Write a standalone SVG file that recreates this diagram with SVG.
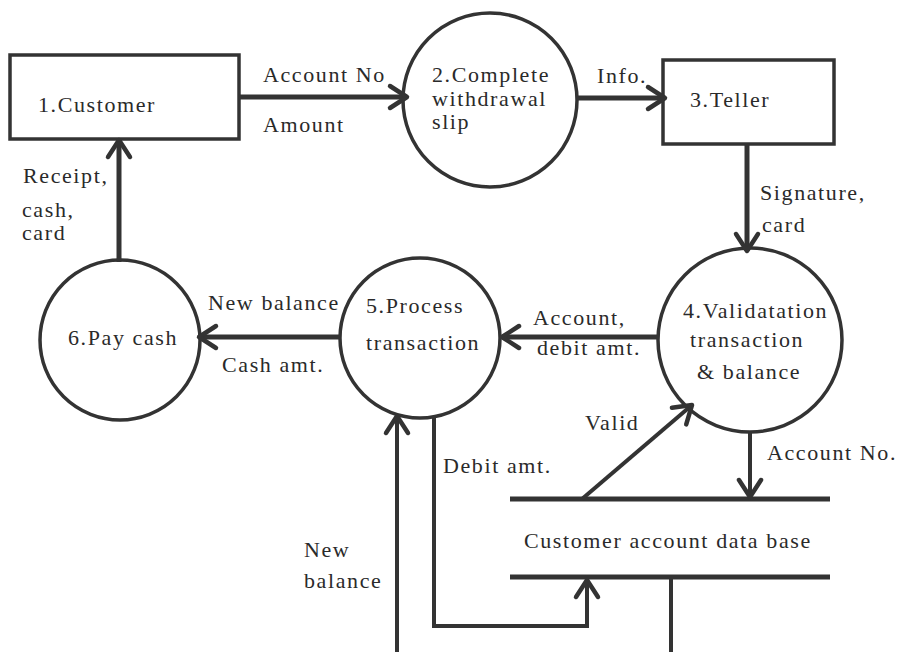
<svg xmlns="http://www.w3.org/2000/svg" width="900" height="652" viewBox="0 0 900 652">
<style>
text{font-family:'Liberation Serif','DejaVu Serif',serif;font-size:22px;letter-spacing:1.6px;fill:#2a2a2a}
.node{fill:none;stroke:#333;stroke-width:3.5}
.flow{fill:none;stroke:#333;stroke-width:5}
.thin{fill:none;stroke:#333;stroke-width:4}
.store{fill:none;stroke:#333;stroke-width:5}
</style>
<defs>
<marker id="arr" viewBox="0 0 22 26" refX="20" refY="13" markerWidth="22" markerHeight="26" markerUnits="userSpaceOnUse" orient="auto" overflow="visible">
<path d="M3,2 L20,13 L3,24" fill="none" stroke="#333" stroke-width="4.5" stroke-linecap="round" stroke-linejoin="round"/>
</marker>
</defs>
<rect width="900" height="652" fill="#fff"/>
<g id="customer"><rect class="node" x="10" y="55" width="229" height="84"/><text x="38" y="112">1.Customer</text></g>
<g id="complete-slip"><circle class="node" cx="490" cy="100" r="87"/><text x="432" y="82">2.Complete</text><text x="432" y="106">withdrawal</text><text x="432" y="129">slip</text></g>
<g id="teller"><rect class="node" x="663" y="60" width="171" height="84"/><text x="690" y="107">3.Teller</text></g>
<g id="validation"><circle class="node" cx="750" cy="340" r="92"/><text x="683" y="318">4.Validatation</text><text x="690" y="347">transaction</text><text x="697" y="379">&amp; balance</text></g>
<g id="process"><circle class="node" cx="420" cy="338" r="80"/><text x="366" y="313">5.Process</text><text x="366" y="350">transaction</text></g>
<g id="pay-cash"><circle class="node" cx="120" cy="340" r="80"/><text x="68" y="345">6.Pay cash</text></g>
<g id="account-db"><line class="store" x1="510" y1="499" x2="830" y2="499"/><line class="store" x1="510" y1="577" x2="830" y2="577"/><text x="524" y="548">Customer account data base</text></g>
<g id="connectors">
<path class="flow" d="M239,97 L407,97" marker-end="url(#arr)"/>
<path class="flow" d="M577,98 L665,98" marker-end="url(#arr)"/>
<path class="flow" d="M747,144 L747,251" marker-end="url(#arr)"/>
<path class="flow" d="M657,337 L502,337" marker-end="url(#arr)"/>
<path class="flow" d="M340,337 L199,337" marker-end="url(#arr)"/>
<path class="flow" d="M119,262 L119,140" marker-end="url(#arr)"/>
<path class="thin" d="M582,499 L692,405" marker-end="url(#arr)"/>
<path class="thin" d="M750,432 L750,497" marker-end="url(#arr)"/>
<path class="thin" d="M434,417 L434,626 L587,626 L587,580" marker-end="url(#arr)"/>
<path class="thin" d="M671,577 L671,670 L397,670 L397,416" marker-end="url(#arr)"/>
</g>
<g id="labels">
<text x="263" y="82">Account No</text>
<text x="263" y="132">Amount</text>
<text x="597" y="83">Info.</text>
<text x="760" y="200">Signature,</text>
<text x="762" y="232">card</text>
<text x="533" y="325">Account,</text>
<text x="537" y="355">debit amt.</text>
<text x="208" y="310">New balance</text>
<text x="222" y="372">Cash amt.</text>
<text x="23" y="183">Receipt,</text>
<text x="22" y="217">cash,</text>
<text x="22" y="240">card</text>
<text x="585" y="430">Valid</text>
<text x="767" y="460">Account No.</text>
<text x="443" y="473">Debit amt.</text>
<text x="304" y="557">New</text>
<text x="304" y="588">balance</text>
</g>
</svg>
